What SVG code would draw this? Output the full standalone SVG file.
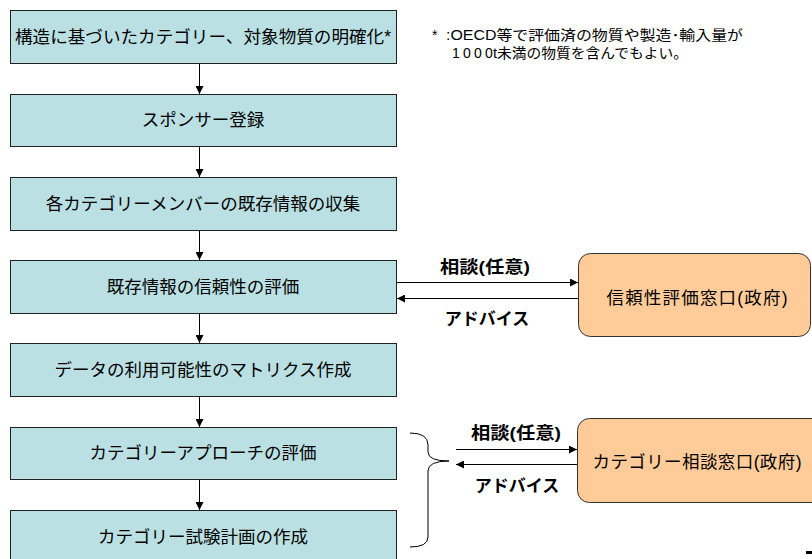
<svg xmlns="http://www.w3.org/2000/svg" width="812" height="559" viewBox="0 0 812 559">
<defs>
<marker id="ah" viewBox="0 0 10 10" refX="10" refY="5" markerWidth="8" markerHeight="8" markerUnits="userSpaceOnUse" orient="auto"><path d="M0,0 L10,5 L0,10 Z" fill="#000"/></marker>
<style>
.box{fill:#BBE0E3;stroke:#222;stroke-width:1}
.rbox{fill:#FFCC99;stroke:#333;stroke-width:1}
.t{font-family:"Liberation Sans","Noto Sans CJK JP",sans-serif;font-size:17.5px;fill:#000;text-anchor:middle}
.b{font-family:"Liberation Sans","Noto Sans CJK JP",sans-serif;font-size:17px;font-weight:bold;fill:#000;text-anchor:middle}
.n{font-family:"Liberation Sans","Noto Sans CJK JP",sans-serif;font-size:14px;fill:#000}
.c{stroke:#000;stroke-width:1;fill:none;marker-end:url(#ah)}
</style>
</defs>
<rect width="812" height="559" fill="#fff"/>
<g id="n1"><rect class="box" x="10.5" y="10.5" width="386" height="53"/><text class="t" x="203" y="43" textLength="376" lengthAdjust="spacingAndGlyphs">構造に基づいたカテゴリー、対象物質の明確化*</text></g>
<g id="n2"><rect class="box" x="10.5" y="94.5" width="386" height="52"/><text class="t" x="203" y="126">スポンサー登録</text></g>
<g id="n3"><rect class="box" x="10.5" y="177.5" width="386" height="53"/><text class="t" x="203" y="210">各カテゴリーメンバーの既存情報の収集</text></g>
<g id="n4"><rect class="box" x="10.5" y="260.5" width="386" height="53"/><text class="t" x="203" y="293">既存情報の信頼性の評価</text></g>
<g id="n5"><rect class="box" x="10.5" y="343.5" width="386" height="53"/><text class="t" x="203" y="376">データの利用可能性のマトリクス作成</text></g>
<g id="n6"><rect class="box" x="10.5" y="427.5" width="386" height="52"/><text class="t" x="203" y="459">カテゴリーアプローチの評価</text></g>
<g id="n7"><rect class="box" x="10.5" y="510.5" width="386" height="53"/><text class="t" x="203" y="543">カテゴリー試験計画の作成</text></g>
<g id="r1"><rect class="rbox" x="578.5" y="253.5" width="232" height="83" rx="12"/><text class="t" x="697" y="304" textLength="181" lengthAdjust="spacing">信頼性評価窓口(政府)</text></g>
<g id="r2"><rect class="rbox" x="577.5" y="418.5" width="250" height="84" rx="12"/><text class="t" x="697" y="468" textLength="209" lengthAdjust="spacing">カテゴリー相談窓口(政府)</text></g>
<g id="note">
<text class="n" x="432" y="40" font-size="18">*</text>
<text class="n" x="446" y="40" textLength="297" lengthAdjust="spacingAndGlyphs">:OECD等で評価済の物質や製造･輸入量が</text>
<text class="n" x="452 463 474 485" y="58">1000</text>
<text class="n" x="493" y="58" textLength="195" lengthAdjust="spacingAndGlyphs">t未満の物質を含んでもよい。</text>
</g>
<g id="connectors">
<path class="c" d="M199.5,64 V94"/>
<path class="c" d="M199.5,147 V177"/>
<path class="c" d="M199.5,231 V260"/>
<path class="c" d="M199.5,314 V343"/>
<path class="c" d="M199.5,397 V427"/>
<path class="c" d="M199.5,480 V510"/>
<path class="c" d="M397,282.5 H578"/>
<path class="c" d="M578,298.5 H397"/>
<path class="c" d="M456,449.5 H577"/>
<path class="c" d="M577,464.5 H456"/>
<path d="M410,433 Q428,433 428,445 L428,452 Q428,461 449,461 Q428,461 428,471 L428,537 Q428,547 410,547" fill="none" stroke="#000" stroke-width="1"/>
<text class="b" x="485" y="273" textLength="90" lengthAdjust="spacingAndGlyphs">相談(任意)</text>
<text class="b" x="487" y="325">アドバイス</text>
<text class="b" x="516" y="439" textLength="90" lengthAdjust="spacingAndGlyphs">相談(任意)</text>
<text class="b" x="517" y="492">アドバイス</text>
</g>
<rect x="806" y="551" width="6" height="3" fill="#000"/>
</svg>
